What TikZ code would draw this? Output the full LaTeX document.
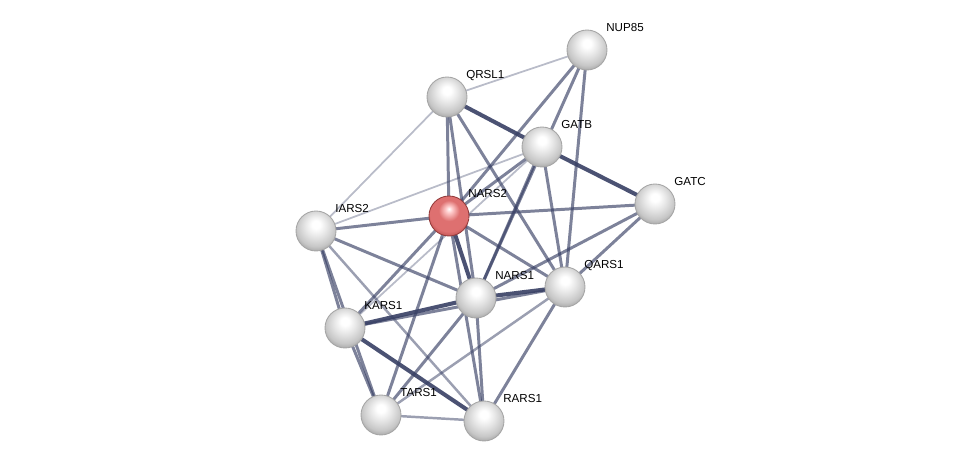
\documentclass[tikz,border=0pt]{standalone}
\usepackage{fontspec}
\setmainfont{Liberation Sans}
\usetikzlibrary{calc}
\pgfdeclarelayer{edges}
\pgfsetlayers{edges,main}
\definecolor{edgeblue}{RGB}{55,63,100}
\definecolor{redmid}{RGB}{222,112,112}
\definecolor{redrim}{RGB}{185,75,75}
\pgfdeclareradialshading{sphere}{\pgfpoint{0bp}{9bp}}{%
  color(0bp)=(white); color(5bp)=(white); color(14bp)=(black!10);
  color(24bp)=(black!22); color(31bp)=(black!38); color(50bp)=(black!38)}
\pgfdeclareradialshading{redsphere}{\pgfpoint{0bp}{9bp}}{%
  color(0bp)=(white); color(4bp)=(red!20!white); color(13bp)=(redmid);
  color(24bp)=(redmid); color(31bp)=(redrim); color(50bp)=(redrim)}

\begin{document}
\begin{tikzpicture}[x=0.02cm, y=-0.02cm, line cap=round, line join=round,
  prot/.style={circle, minimum size=0.8cm, inner sep=0pt, draw=gray!70, line width=0.5pt, shading=sphere},
  query/.style={prot, shading=redsphere, draw=redrim!80!black},
  tag/.style={anchor=base west, inner sep=0pt, font=\fontsize{6.6}{7}\selectfont},
  weak/.style={draw=edgeblue, line width=1pt, opacity=0.35},
  faint/.style={draw=edgeblue, line width=1.4pt, opacity=0.5},
  mid/.style={draw=edgeblue, line width=1.7pt, opacity=0.65},
  strong/.style={draw=edgeblue, line width=2.3pt, opacity=0.9}]
\useasboundingbox (0,0) rectangle (975,465);
% proteins
\node[prot] (nup85) at (587,50) {};
\node[prot] (qrsl1) at (447,97) {};
\node[prot] (gatb) at (542,147) {};
\node[prot] (gatc) at (655,204) {};
\node[query] (nars2) at (449,216) {};
\node[prot] (iars2) at (316,231) {};
\node[prot] (nars1) at (476,298) {};
\node[prot] (qars1) at (565,287) {};
\node[prot] (kars1) at (345,328) {};
\node[prot] (tars1) at (381,415) {};
\node[prot] (rars1) at (484,421) {};
% labels
\node[tag] (nup85-t) at ($(nup85)+(19,-18)$) {NUP85};
\node[tag] (qrsl1-t) at ($(qrsl1)+(19,-18)$) {QRSL1};
\node[tag] (gatb-t) at ($(gatb)+(19,-18)$) {GATB};
\node[tag] (gatc-t) at ($(gatc)+(19,-18)$) {GATC};
\node[tag] (nars2-t) at ($(nars2)+(19,-18)$) {NARS2};
\node[tag] (iars2-t) at ($(iars2)+(19,-18)$) {IARS2};
\node[tag] (nars1-t) at ($(nars1)+(19,-18)$) {NARS1};
\node[tag] (qars1-t) at ($(qars1)+(19,-18)$) {QARS1};
\node[tag] (kars1-t) at ($(kars1)+(19,-18)$) {KARS1};
\node[tag] (tars1-t) at ($(tars1)+(19,-18)$) {TARS1};
\node[tag] (rars1-t) at ($(rars1)+(19,-18)$) {RARS1};
% interactions
\begin{pgfonlayer}{edges}
\draw[weak] (qrsl1.center) -- (nup85.center);
\draw[weak] (qrsl1.center) -- (iars2.center);
\draw[weak] (gatb.center) -- (iars2.center);
\draw[weak] (gatb.center) -- (kars1.center);
\draw[strong] (qrsl1.center) -- (gatb.center);
\draw[strong] (gatb.center) -- (gatc.center);
\draw[mid] (qrsl1.center) -- (nars2.center);
\draw[mid] (qrsl1.center) -- (nars1.center);
\draw[mid] (qrsl1.center) -- (qars1.center);
\draw[mid] (nup85.center) -- (nars2.center);
\draw[mid] (nup85.center) -- (nars1.center);
\draw[mid] (nup85.center) -- (qars1.center);
\draw[mid] (gatb.center) -- (nars2.center);
\draw[mid] (gatb.center) -- (nars1.center);
\draw[mid] (gatb.center) -- (qars1.center);
\draw[mid] (nars2.center) -- (gatc.center);
\draw[mid] (nars2.center) -- (iars2.center);
\draw[strong] (nars2.center) -- (nars1.center);
\draw[mid] (nars2.center) -- (qars1.center);
\draw[mid] (nars2.center) -- (kars1.center);
\draw[mid] (nars2.center) -- (tars1.center);
\draw[mid] (nars2.center) -- (rars1.center);
\draw[mid] (iars2.center) -- (nars1.center);
\draw[mid] (iars2.center) -- (kars1.center);
\draw[mid] (iars2.center) -- (tars1.center);
\draw[faint] (iars2.center) -- (rars1.center);
\draw[mid] (nars1.center) -- (gatc.center);
\draw[mid] (qars1.center) -- (gatc.center);
\draw[strong] (nars1.center) -- (qars1.center);
\draw[strong] (kars1.center) -- (nars1.center);
\draw[mid] (kars1.center) -- (qars1.center);
\draw[mid] (nars1.center) -- (tars1.center);
\draw[mid] (nars1.center) -- (rars1.center);
\draw[faint] (qars1.center) -- (tars1.center);
\draw[mid] (qars1.center) -- (rars1.center);
\draw[mid] (kars1.center) -- (tars1.center);
\draw[strong] (kars1.center) -- (rars1.center);
\draw[faint] (tars1.center) -- (rars1.center);
\end{pgfonlayer}
\end{tikzpicture}
\end{document}
